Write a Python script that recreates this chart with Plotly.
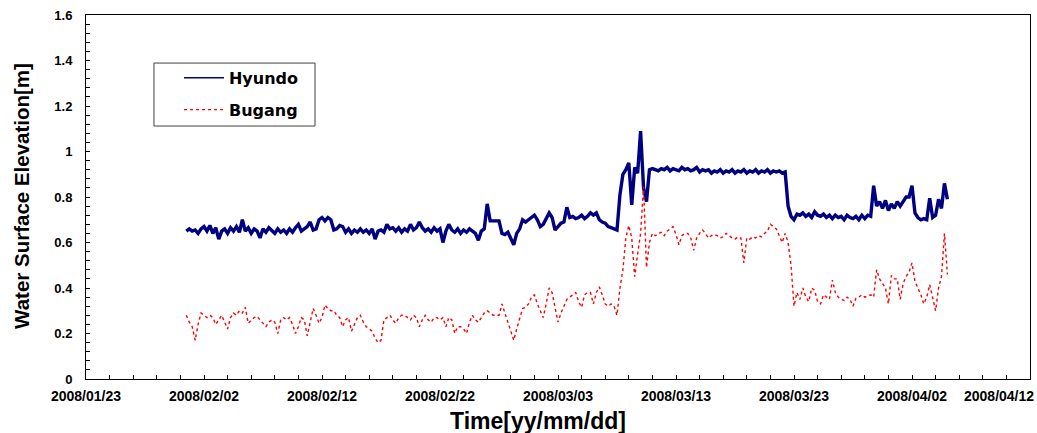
import plotly.graph_objects as go
import pandas as pd

# ---- data (6-hourly readings starting 2008-01-31 12:00) ----
start_time = "2008-01-31 12:00"
sample_step = "6h"

hyundo = [
    0.65, 0.66, 0.65, 0.655, 0.64, 0.66, 0.67, 0.65, 0.675, 0.64,
    0.665, 0.615, 0.65, 0.66, 0.64, 0.665, 0.65, 0.67, 0.645, 0.70,
    0.65, 0.665, 0.64, 0.66, 0.65, 0.62, 0.66, 0.645, 0.665, 0.65,
    0.64, 0.66, 0.645, 0.655, 0.64, 0.66, 0.645, 0.665, 0.68, 0.65,
    0.66, 0.67, 0.69, 0.655, 0.66, 0.70, 0.71, 0.695, 0.71, 0.70,
    0.655, 0.66, 0.675, 0.67, 0.645, 0.66, 0.64, 0.655, 0.645, 0.66,
    0.645, 0.655, 0.64, 0.66, 0.615, 0.65, 0.655, 0.645, 0.68, 0.66,
    0.665, 0.65, 0.665, 0.645, 0.66, 0.65, 0.68, 0.655, 0.665, 0.69,
    0.665, 0.65, 0.66, 0.645, 0.665, 0.65, 0.66, 0.60, 0.65, 0.68,
    0.655, 0.645, 0.66, 0.64, 0.655, 0.645, 0.66, 0.65, 0.64, 0.61,
    0.65, 0.66, 0.77, 0.695, 0.695, 0.695, 0.695, 0.64, 0.635, 0.645,
    0.62, 0.59, 0.64, 0.66, 0.70, 0.69, 0.70, 0.71, 0.72, 0.70,
    0.67, 0.68, 0.705, 0.73, 0.71, 0.655, 0.67, 0.685, 0.69, 0.755,
    0.71, 0.715, 0.705, 0.71, 0.72, 0.705, 0.715, 0.73, 0.72, 0.73,
    0.70, 0.69, 0.685, 0.67, 0.665, 0.66, 0.655, 0.81, 0.90, 0.92,
    0.95, 0.765, 0.93, 0.905, 1.09, 0.84, 0.78, 0.92, 0.925, 0.92,
    0.915, 0.925, 0.92, 0.93, 0.915, 0.925, 0.92, 0.915, 0.93, 0.92,
    0.925, 0.915, 0.92, 0.93, 0.91, 0.92, 0.915, 0.92, 0.905, 0.915,
    0.91, 0.92, 0.905, 0.915, 0.91, 0.92, 0.905, 0.915, 0.91, 0.92,
    0.905, 0.915, 0.91, 0.92, 0.905, 0.915, 0.91, 0.92, 0.905, 0.915,
    0.91, 0.915, 0.905, 0.91, 0.76, 0.715, 0.70, 0.725, 0.72, 0.73,
    0.715, 0.725, 0.71, 0.735, 0.72, 0.715, 0.725, 0.71, 0.72, 0.705,
    0.72, 0.71, 0.715, 0.70, 0.72, 0.71, 0.705, 0.715, 0.70, 0.72,
    0.705, 0.72, 0.715, 0.85, 0.76, 0.78, 0.75, 0.785, 0.74, 0.77,
    0.75, 0.78, 0.76, 0.78, 0.80, 0.80, 0.85, 0.73, 0.71, 0.70,
    0.705, 0.70, 0.795, 0.71, 0.72, 0.79, 0.75, 0.86, 0.79,
]

bugang = [
    0.28, 0.25, 0.23, 0.17, 0.24, 0.29, 0.28, 0.27, 0.28, 0.27,
    0.24, 0.26, 0.28, 0.25, 0.22, 0.27, 0.29, 0.28, 0.30, 0.29,
    0.315, 0.245, 0.26, 0.27, 0.275, 0.26, 0.25, 0.23, 0.25, 0.26,
    0.25, 0.20, 0.26, 0.27, 0.26, 0.27, 0.24, 0.20, 0.23, 0.27,
    0.26, 0.19, 0.25, 0.31, 0.28, 0.245, 0.27, 0.325, 0.31, 0.30,
    0.30, 0.28, 0.27, 0.23, 0.26, 0.27, 0.21, 0.24, 0.27, 0.28,
    0.25, 0.23, 0.22, 0.21, 0.18, 0.16, 0.17, 0.26, 0.27, 0.28,
    0.26, 0.245, 0.27, 0.28, 0.28, 0.27, 0.26, 0.28, 0.27, 0.23,
    0.26, 0.28, 0.26, 0.25, 0.27, 0.27, 0.26, 0.27, 0.23, 0.27,
    0.26, 0.20, 0.23, 0.23, 0.22, 0.20, 0.25, 0.28, 0.26, 0.25,
    0.27, 0.29, 0.30, 0.29, 0.28, 0.28, 0.28, 0.33, 0.29, 0.26,
    0.22, 0.17, 0.22, 0.26, 0.31, 0.315, 0.33, 0.36, 0.37, 0.33,
    0.30, 0.27, 0.33, 0.40, 0.38, 0.315, 0.25, 0.29, 0.32, 0.35,
    0.36, 0.37, 0.38, 0.34, 0.315, 0.37, 0.38, 0.38, 0.33, 0.38,
    0.405, 0.37, 0.33, 0.32, 0.33, 0.32, 0.28, 0.40, 0.48, 0.62,
    0.675, 0.62, 0.45, 0.55, 0.64, 0.845, 0.49, 0.60, 0.64, 0.63,
    0.64, 0.645, 0.63, 0.65, 0.66, 0.67, 0.635, 0.59, 0.63, 0.64,
    0.64, 0.62, 0.565, 0.62, 0.64, 0.655, 0.64, 0.62, 0.63, 0.635,
    0.63, 0.62, 0.625, 0.64, 0.63, 0.62, 0.615, 0.625, 0.62, 0.51,
    0.62, 0.615, 0.625, 0.62, 0.63, 0.625, 0.64, 0.65, 0.68, 0.67,
    0.66, 0.63, 0.60, 0.64, 0.60, 0.50, 0.32, 0.38, 0.35, 0.40,
    0.36, 0.34, 0.40, 0.39, 0.34, 0.33, 0.37, 0.36, 0.35, 0.435,
    0.38, 0.36, 0.35, 0.345, 0.36, 0.35, 0.32, 0.355, 0.36, 0.37,
    0.36, 0.365, 0.37, 0.36, 0.48, 0.44, 0.42, 0.40, 0.33, 0.455,
    0.44, 0.44, 0.35, 0.42, 0.45, 0.47, 0.51, 0.43, 0.40, 0.37,
    0.33, 0.36, 0.415, 0.36, 0.30, 0.40, 0.45, 0.64, 0.46,
]

series_names = ["Hyundo", "Bugang"]
series_colors = ["#000080", "#FF0000"]
x_range = ["2008-01-23", "2008-04-12"]
y_range = [0, 1.6]
last_tick_label = "2008/04/12"

times = pd.date_range(start_time, periods=len(hyundo), freq=sample_step)

fig = go.Figure()
# data traces
fig.add_trace(go.Scatter(
    x=times, y=hyundo, mode="lines", name=series_names[0], showlegend=False,
    line=dict(color=series_colors[0], width=3.4), legendgroup="a",
))
fig.add_trace(go.Scatter(
    x=times, y=bugang, mode="lines", name=series_names[1], showlegend=False,
    line=dict(color=series_colors[1], width=1.4, dash="dot"), legendgroup="b",
))
# legend entries (thin line samples as in the reference)
fig.add_trace(go.Scatter(
    x=[None], y=[None], mode="lines", name=series_names[0],
    line=dict(color=series_colors[0], width=1.6), legendgroup="a",
))
fig.add_trace(go.Scatter(
    x=[None], y=[None], mode="lines", name=series_names[1],
    line=dict(color=series_colors[1], width=1.2, dash="dot"), legendgroup="b",
))

tick_font = dict(family="Liberation Sans, Arial, sans-serif", size=14,
                 color="black", weight="bold")
title_font_y = dict(family="Liberation Sans, Arial, sans-serif",
                    size=20.5, color="black", weight="bold")
title_font_x = dict(family="Liberation Sans, Arial, sans-serif",
                    size=23, color="black", weight="bold")

fig.update_layout(
    width=1037, height=433,
    margin=dict(l=86, r=7, t=15, b=54),
    paper_bgcolor="white", plot_bgcolor="white",
    showlegend=True,
    legend=dict(
        x=0.0985, y=0.874, xanchor="left", yanchor="top",
        bgcolor="rgba(0,0,0,0)", borderwidth=0,
        font=dict(family="DejaVu Sans, sans-serif", size=16, color="black", weight="bold"),
        itemwidth=40, traceorder="grouped", tracegroupgap=8,
    ),
    xaxis=dict(
        type="date", range=x_range,
        tick0="2008-01-23", dtick=10 * 86400000, tickformat="%Y/%m/%d",
        ticks="inside", ticklen=4, tickcolor="black",
        minor=dict(dtick=2 * 86400000, ticks="inside", ticklen=4, tickcolor="black"),
        showgrid=False, zeroline=False,
        showline=True, linecolor="black", linewidth=1, mirror=True,
        tickfont=tick_font, ticklabelstandoff=4,
    ),
    yaxis=dict(
        range=y_range, dtick=0.2, tick0=0,
        ticks="inside", ticklen=4, tickcolor="black",
        minor=dict(dtick=0.04, ticks="inside", ticklen=4, tickcolor="black"),
        showgrid=False, zeroline=False,
        showline=True, linecolor="black", linewidth=1, mirror=True,
        tickfont=dict(family="Liberation Sans, Arial, sans-serif", size=13,
                      color="black", weight="bold"),
        ticklabelstandoff=10,
    ),
    annotations=[
        dict(text="Water Surface Elevation[m]", xref="paper", yref="paper",
             x=-0.0678, y=0.503, textangle=-90, showarrow=False,
             xanchor="center", yanchor="middle", font=title_font_y),
        dict(text="Time[yy/mm/dd]", xref="paper", yref="paper",
             x=0.479, y=-0.115, showarrow=False,
             xanchor="center", yanchor="middle", font=title_font_x),
        dict(text=last_tick_label, xref="paper", yref="paper",
             x=1.0, y=0, xanchor="right", yanchor="top", xshift=6, yshift=-7,
             showarrow=False, font=tick_font),
    ],
    shapes=[
        dict(type="rect", xref="paper", yref="paper",
             x0=0.0720, x1=0.2426, y0=0.695, y1=0.868,
             line=dict(color="#404040", width=1), fillcolor="rgba(0,0,0,0)"),
    ],
)

fig.write_html("out.html")
